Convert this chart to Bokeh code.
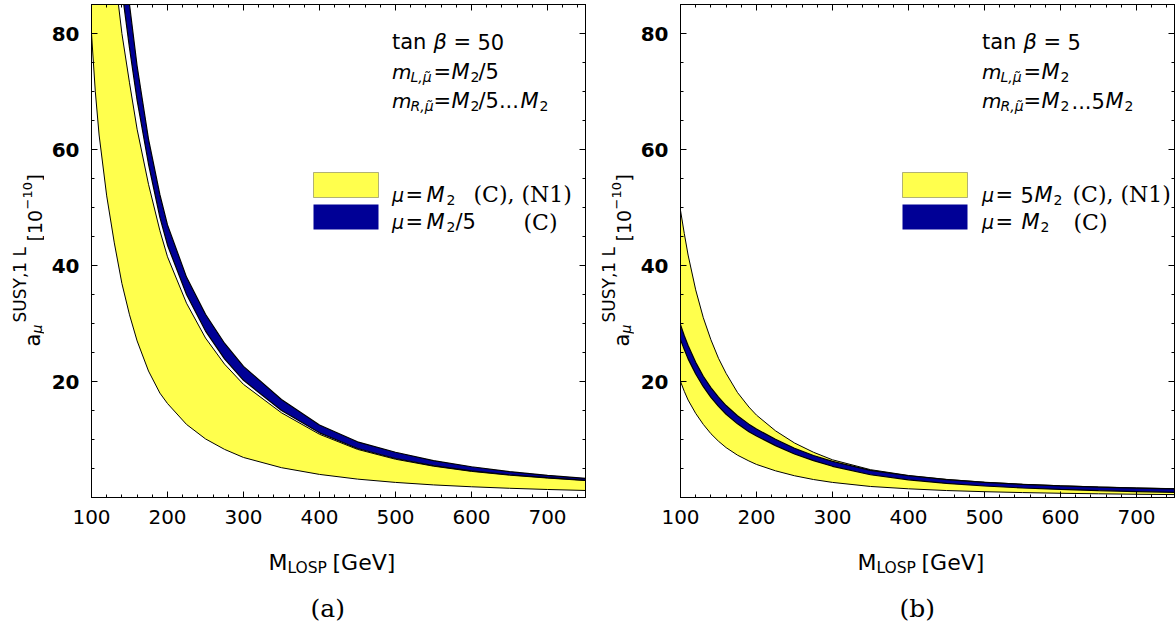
import math
from bokeh.plotting import figure
from bokeh.models import Label, LinearAxis, FixedTicker, BoxAnnotation, Range1d
from bokeh.layouts import row, column
from bokeh.embed import file_html
from bokeh.resources import INLINE

# ---------------- data ----------------
m_losp = [100, 105, 110, 120, 130, 140, 150, 160, 175, 190, 200, 225, 250, 275,
          300, 350, 400, 450, 500, 550, 600, 650, 700, 750]

# panel (a): tan beta = 50
a_yellow_low = [80, 70, 62.5, 52, 43.9, 36.9, 31.5, 27.0, 21.8, 18.0, 16.2, 12.6, 10.1, 8.3,
                6.9, 5.14, 3.98, 3.17, 2.6, 2.17, 1.85, 1.59, 1.38, 1.21]
a_yellow_high = [148, 135, 124, 105, 91, 80, 71.5, 63.5, 54, 46, 41.5, 33.5, 27.5, 23,
                 19.5, 14.6, 10.9, 8.3, 6.6, 5.4, 4.5, 3.85, 3.35, 2.92]
a_blue_low = [165, 150, 137, 116, 100, 87.5, 77.5, 68.5, 57.5, 48.3, 43.5, 35, 28.7, 23.9,
              20.2, 15, 11.15, 8.45, 6.72, 5.5, 4.58, 3.92, 3.41, 2.97]
a_blue_high = [196, 177, 161, 134.6, 114, 98, 85, 74.4, 61.8, 52.2, 47, 38, 31.6, 26.6,
               22.6, 16.9, 12.5, 9.6, 7.8, 6.37, 5.3, 4.47, 3.82, 3.3]

# panel (b): tan beta = 5
b_yellow_low = [20, 18.3, 16.8, 14.5, 12.6, 11.0, 9.7, 8.6, 7.3, 6.3, 5.7, 4.6, 3.75, 3.1,
                2.6, 1.9, 1.5, 1.2, 1.0, 0.85, 0.73, 0.64, 0.56, 0.5]
b_yellow_high = [49.5, 45.5, 41.8, 35.8, 31.0, 27.2, 24.0, 21.4, 18.1, 15.6, 14.2, 11.5, 9.4, 7.8,
                 6.5, 4.8, 3.8, 3.12, 2.64, 2.28, 2.02, 1.82, 1.65, 1.52]
b_blue_low = [27.2, 25.5, 23.9, 21.3, 19.1, 17.25, 15.7, 14.35, 12.7, 11.35, 10.6, 8.95, 7.5, 6.35,
              5.38, 3.92, 3.05, 2.42, 1.98, 1.64, 1.4, 1.2, 1.03, 0.9]
b_blue_high = [29.8, 27.9, 26.2, 23.3, 20.9, 18.95, 17.3, 15.85, 14.1, 12.65, 11.8, 10.05, 8.5, 7.25,
               6.22, 4.68, 3.75, 3.08, 2.62, 2.26, 2.0, 1.8, 1.63, 1.5]

x_ticks = [100, 200, 300, 400, 500, 600, 700]
x_minor_ticks = list(range(100, 760, 20))
y_ticks = [20, 40, 60, 80]
y_minor_ticks = list(range(0, 90, 5))

# ---------------- style / layout ----------------
YELLOW = "#FFFF4D"
NAVY = "#000096"
SANS = "DejaVu Sans"
SERIF = "DejaVu Serif"
FW, FH = 494, 493
TOP = 4
MAIN_H = 535          # main figure height (frame bottom at y = 497)
FRAME_BOTTOM = TOP + FH
TOTAL_H = 626
YLAB_W = 44
ROT_SHIFT = 43        # correction for rotated label placement


def style_axis(ax, ticker, labels=True, bold=False, standoff=0):
    ax.ticker = ticker
    ax.axis_line_color = "black"
    ax.axis_line_width = 1
    ax.major_tick_in = 6
    ax.major_tick_out = 0
    ax.minor_tick_in = 3
    ax.minor_tick_out = 0
    ax.major_tick_line_color = "black"
    ax.minor_tick_line_color = "black"
    ax.major_label_standoff = standoff
    if labels:
        ax.major_label_text_font = SANS
        ax.major_label_text_font_size = "20px"
        ax.major_label_text_font_style = "bold" if bold else "normal"
        ax.major_label_text_color = "black"


def tick_only_axis(positions, length):
    ax = LinearAxis(ticker=FixedTicker(ticks=[], minor_ticks=positions))
    ax.axis_line_color = "black"
    ax.major_tick_in = 0
    ax.major_tick_out = 0
    ax.minor_tick_in = length
    ax.minor_tick_out = 0
    ax.minor_tick_line_color = "black"
    ax.major_label_standoff = 0
    return ax


def add_labels(p, left, bottom, tokens, angle=0.0):
    for txt, xc, yc, size, style, font in tokens:
        p.add_layout(Label(x=xc - left, y=bottom - yc,
                           x_units="screen", y_units="screen", text=txt,
                           text_font=font, text_font_size=f"{size}px",
                           text_font_style=style, text_color="black",
                           text_align="left", text_baseline="alphabetic",
                           angle=angle, angle_units="rad"))


def text_fig(width, height, left, bottom, tokens, angle=0.0):
    f = figure(width=width, height=height, x_axis_type=None, y_axis_type=None,
               x_range=Range1d(0, 1), y_range=Range1d(0, 1), min_border=0,
               output_backend="svg", toolbar_location=None)
    f.outline_line_color = None
    f.background_fill_color = "white"
    f.border_fill_color = "white"
    add_labels(f, left, bottom, tokens, angle)
    return f


def panel(frame_left, border_left, border_right, ylow, yhigh, blow, bhigh, tokens):
    p = figure(frame_width=FW, frame_height=FH,
               x_range=Range1d(100, 750), y_range=Range1d(0, 85),
               min_border_left=border_left, min_border_right=border_right,
               min_border_top=TOP, min_border_bottom=MAIN_H - FRAME_BOTTOM,
               output_backend="svg", toolbar_location=None)
    p.grid.visible = False
    p.outline_line_color = "black"
    p.background_fill_color = "white"
    p.border_fill_color = "white"

    p.varea(x=m_losp, y1=ylow, y2=yhigh, fill_color=YELLOW)
    p.line(m_losp, yhigh, line_color="black", line_width=1)
    p.line(m_losp, ylow, line_color="black", line_width=1)
    p.varea(x=m_losp, y1=blow, y2=bhigh, fill_color=NAVY)
    p.line(m_losp, bhigh, line_color="black", line_width=1.2)
    p.line(m_losp, blow, line_color="black", line_width=1.2)

    style_axis(p.xaxis[0], FixedTicker(ticks=x_ticks, minor_ticks=x_minor_ticks), standoff=12)
    style_axis(p.yaxis[0], FixedTicker(ticks=y_ticks, minor_ticks=y_minor_ticks), bold=True, standoff=12)
    p.add_layout(tick_only_axis(x_ticks, 6), "above")
    p.add_layout(tick_only_axis(x_minor_ticks, 3), "above")
    p.add_layout(tick_only_axis(y_ticks, 6), "right")
    p.add_layout(tick_only_axis(y_minor_ticks, 3), "right")

    # legend boxes (screen units, relative to the frame)
    p.add_layout(BoxAnnotation(left=222, right=287, bottom=300, top=325,
                               left_units="screen", right_units="screen",
                               top_units="screen", bottom_units="screen",
                               fill_color=YELLOW, fill_alpha=1,
                               line_color="black", line_width=1))
    p.add_layout(BoxAnnotation(left=222, right=287, bottom=268, top=293,
                               left_units="screen", right_units="screen",
                               top_units="screen", bottom_units="screen",
                               fill_color=NAVY, fill_alpha=1, line_alpha=0))

    add_labels(p, frame_left, FRAME_BOTTOM, tokens)
    return p


def ylabel_tokens(dx):
    s = ROT_SHIFT
    return [
        ("a", 32 + dx, 341 + s, 21, "normal", SANS),
        ("\u03bc", 36.5 + dx, 328 + s, 14, "italic", SANS),
        ("SUSY,1 L", 19 + dx, 317 + s, 17, "normal", SANS),
        ("[10", 34 + dx, 236 + s, 19, "normal", SANS),
        ("\u221210", 26.5 + dx, 204 + s, 13, "normal", SANS),
        ("]", 34 + dx, 176 + s, 19, "normal", SANS),
    ]


def xlabel_tokens(dx, tag):
    return [
        ("M", 268 + dx, 562, 22, "normal", SANS),
        ("LOSP", 287 + dx, 567, 15.5, "normal", SANS),
        ("[GeV]", 332 + dx, 562, 22, "normal", SANS),
        (tag, 310 + dx, 608, 25, "normal", SERIF),
    ]


MU_T = "\u03bc\u0303"

tokens_a = [
    ("tan", 391.5, 41.5, 21, "normal", SANS),
    ("\u03b2", 433, 41.5, 21, "italic", SANS),
    ("=", 453, 41.5, 21, "normal", SANS),
    ("50", 477, 41.5, 21, "normal", SANS),
    ("m", 391.5, 71.5, 20, "italic", SANS),
    ("L," + MU_T, 410, 76, 14, "italic", SANS),
    ("=", 433, 71.5, 21, "normal", SANS),
    ("M", 451, 71.5, 21, "italic", SANS),
    ("2", 470, 76, 14, "normal", SANS),
    ("/5", 478, 71.5, 21, "normal", SANS),
    ("m", 391.5, 100.5, 20, "italic", SANS),
    ("R," + MU_T, 410, 105, 14, "italic", SANS),
    ("=", 433, 100.5, 21, "normal", SANS),
    ("M", 451, 100.5, 21, "italic", SANS),
    ("2", 470, 105, 14, "normal", SANS),
    ("/5...", 478, 100.5, 21, "normal", SANS),
    ("M", 520, 100.5, 21, "italic", SANS),
    ("2", 539, 105, 14, "normal", SANS),
    # legend texts
    ("\u03bc", 391.5, 194, 19, "italic", SANS),
    ("=", 405, 194, 21, "normal", SANS),
    ("M", 426, 194, 21, "italic", SANS),
    ("2", 446, 199, 14, "normal", SANS),
    ("(C),", 473, 194, 22, "normal", SERIF),
    ("(N1)", 521, 194, 22, "normal", SERIF),
    ("\u03bc", 391.5, 221.5, 19, "italic", SANS),
    ("=", 405, 221.5, 21, "normal", SANS),
    ("M", 426, 221.5, 21, "italic", SANS),
    ("2", 446, 226.5, 14, "normal", SANS),
    ("/5", 455, 221.5, 21, "normal", SANS),
    ("(C)", 523, 221.5, 22, "normal", SERIF),
]

tokens_b = [
    ("tan", 981.5, 41.5, 21, "normal", SANS),
    ("\u03b2", 1023, 41.5, 21, "italic", SANS),
    ("=", 1043, 41.5, 21, "normal", SANS),
    ("5", 1067, 41.5, 21, "normal", SANS),
    ("m", 981.5, 71.5, 20, "italic", SANS),
    ("L," + MU_T, 1000, 76, 14, "italic", SANS),
    ("=", 1023, 71.5, 21, "normal", SANS),
    ("M", 1041, 71.5, 21, "italic", SANS),
    ("2", 1060, 76, 14, "normal", SANS),
    ("m", 981.5, 100.5, 20, "italic", SANS),
    ("R," + MU_T, 1000, 105, 14, "italic", SANS),
    ("=", 1023, 100.5, 21, "normal", SANS),
    ("M", 1041, 100.5, 21, "italic", SANS),
    ("2", 1060, 105, 14, "normal", SANS),
    ("...5", 1071, 100.5, 21, "normal", SANS),
    ("M", 1105, 100.5, 21, "italic", SANS),
    ("2", 1124, 105, 14, "normal", SANS),
    # legend texts
    ("\u03bc", 981.5, 194, 19, "italic", SANS),
    ("=", 995, 194, 21, "normal", SANS),
    ("5", 1020, 194, 21, "normal", SANS),
    ("M", 1034, 194, 21, "italic", SANS),
    ("2", 1053, 199, 14, "normal", SANS),
    ("(C), (N1)", 1072, 194, 22, "normal", SERIF),
    ("\u03bc", 981.5, 221.5, 19, "italic", SANS),
    ("=", 995, 221.5, 21, "normal", SANS),
    ("M", 1021, 221.5, 21, "italic", SANS),
    ("2", 1040, 226.5, 14, "normal", SANS),
    ("(C)", 1073, 221.5, 22, "normal", SERIF),
]

# panel (a): canvas x 0..590
main_a = panel(91, 91 - YLAB_W, 5, a_yellow_low, a_yellow_high, a_blue_low, a_blue_high, tokens_a)
ylab_a = text_fig(YLAB_W, MAIN_H, 0, MAIN_H, ylabel_tokens(0), angle=math.pi / 2)
xlab_a = text_fig(590, TOTAL_H - MAIN_H, 0, TOTAL_H, xlabel_tokens(0, "(a)"))

# panel (b): canvas x 590..1176
main_b = panel(680, 680 - 590 - YLAB_W, 2, b_yellow_low, b_yellow_high, b_blue_low, b_blue_high, tokens_b)
ylab_b = text_fig(YLAB_W, MAIN_H, 590, MAIN_H, ylabel_tokens(589), angle=math.pi / 2)
xlab_b = text_fig(586, TOTAL_H - MAIN_H, 590, TOTAL_H, xlabel_tokens(589, "(b)"))

layout = row(column(row(ylab_a, main_a), xlab_a),
             column(row(ylab_b, main_b), xlab_b))
open("out.html", "w").write(file_html(layout, INLINE, title="a_mu SUSY 1L"))
